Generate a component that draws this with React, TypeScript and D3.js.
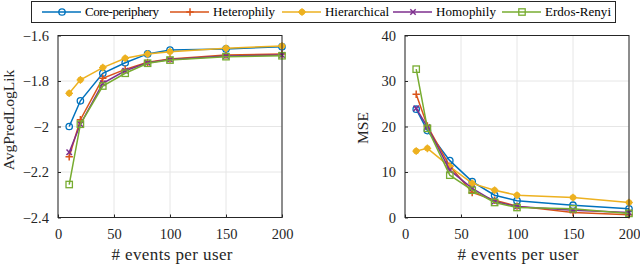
import React, { Component } from "react";
import * as d3 from "d3";

// x values (events per user)
const events = [10, 20, 40, 60, 80, 100, 150, 200];

const seriesNames = ["Core-periphery", "Heterophily", "Hierarchical", "Homophily", "Erdos-Renyi"];
const seriesColors = ["#0072BD", "#D95319", "#EDB120", "#7E2F8E", "#77AC30"];
const seriesMarkers = ["circle", "plus", "star", "cross", "square"];

// AvgPredLogLik
const llCore = [-2.0, -1.887, -1.766, -1.72, -1.681, -1.664, -1.659, -1.649];
const llHetero = [-2.133, -1.97, -1.788, -1.749, -1.718, -1.703, -1.686, -1.681];
const llHier = [-1.854, -1.795, -1.741, -1.70, -1.681, -1.671, -1.656, -1.646];
const llHomo = [-2.113, -1.99, -1.81, -1.755, -1.72, -1.706, -1.69, -1.686];
const llErdos = [-2.255, -1.99, -1.822, -1.766, -1.722, -1.708, -1.693, -1.689];

// MSE
const mseCore = [23.8, 19.1, 12.5, 7.9, 4.9, 3.7, 2.7, 1.9];
const mseHetero = [27.1, 20.1, 11.3, 5.5, 3.8, 2.5, 1.1, 0.6];
const mseHier = [14.6, 15.2, 11.2, 7.5, 6.0, 4.9, 4.4, 3.3];
const mseHomo = [24.0, 19.9, 10.4, 6.4, 3.5, 2.4, 1.6, 1.1];
const mseErdos = [32.6, 19.6, 9.3, 6.0, 3.3, 2.2, 1.9, 0.9];

const xTicks = [0, 50, 100, 150, 200];
const llTicks = [-2.4, -2.2, -2, -1.8, -1.6];
const mseTicks = [0, 10, 20, 30, 40];

const FONT = "Liberation Serif";
const INK = "#262626";

function drawMarker(g, type, x, y, color) {
  const s = 3.2;
  if (type === "circle") {
    g.append("circle").attr("cx", x).attr("cy", y).attr("r", s)
      .attr("fill", "none").attr("stroke", color).attr("stroke-width", 1.3);
  } else if (type === "square") {
    g.append("rect").attr("x", x - s).attr("y", y - s).attr("width", 2 * s).attr("height", 2 * s)
      .attr("fill", "none").attr("stroke", color).attr("stroke-width", 1.3);
  } else if (type === "plus") {
    g.append("path").attr("d", `M${x - s - 0.5},${y}H${x + s + 0.5}M${x},${y - s - 0.5}V${y + s + 0.5}`)
      .attr("stroke", color).attr("stroke-width", 1.5);
  } else if (type === "cross") {
    g.append("path").attr("d", `M${x - s + 0.5},${y - s + 0.5}L${x + s - 0.5},${y + s - 0.5}M${x - s + 0.5},${y + s - 0.5}L${x + s - 0.5},${y - s + 0.5}`)
      .attr("stroke", color).attr("stroke-width", 1.5);
  } else if (type === "star") {
    g.append("circle").attr("cx", x).attr("cy", y).attr("r", s - 0.4)
      .attr("fill", color).attr("stroke", color).attr("stroke-width", 1);
    g.append("path").attr("d", `M${x - s - 0.6},${y}H${x + s + 0.6}M${x},${y - s - 0.6}V${y + s + 0.6}`)
      .attr("stroke", color).attr("stroke-width", 1.3);
  }
}

class Chart extends Component {
  svgRef = React.createRef<SVGSVGElement>();

  componentDidMount() {
    this.renderChart();
  }

  componentDidUpdate() {
    this.renderChart();
  }

  drawPanel(svg, box, domainY, yTicks, yFmt, seriesData, yLabel, yLabelPos, xLabelX) {
    const { left, right, top, bottom } = box;
    const x = d3.scaleLinear().domain([0, 200]).range([left, right]);
    const y = d3.scaleLinear().domain(domainY).range([bottom, top]);
    const g = svg.append("g");

    g.append("rect").attr("x", left).attr("y", top).attr("width", right - left).attr("height", bottom - top)
      .attr("fill", "#fff");

    // grid
    g.append("g").selectAll("line").data(xTicks).join("line")
      .attr("x1", (d) => x(d)).attr("x2", (d) => x(d)).attr("y1", top).attr("y2", bottom)
      .attr("stroke", "#e6e6e6").attr("stroke-width", 1);
    g.append("g").selectAll("line").data(yTicks).join("line")
      .attr("x1", left).attr("x2", right).attr("y1", (d) => y(d)).attr("y2", (d) => y(d))
      .attr("stroke", "#e6e6e6").attr("stroke-width", 1);

    // series
    const line = d3.line<number>().x((d, i) => x(events[i])).y((d) => y(d));
    seriesData.forEach((vals, si) => {
      g.append("path").datum(vals).attr("d", line)
        .attr("fill", "none").attr("stroke", seriesColors[si]).attr("stroke-width", 1.5);
      vals.forEach((v, i) => drawMarker(g, seriesMarkers[si], x(events[i]), y(v), seriesColors[si]));
    });

    // box
    g.append("rect").attr("x", left).attr("y", top).attr("width", right - left).attr("height", bottom - top)
      .attr("fill", "none").attr("stroke", INK).attr("stroke-width", 1);

    // bottom axis
    const ax = g.append("g").attr("transform", `translate(0,${bottom})`)
      .call(d3.axisBottom(x).tickValues(xTicks).tickSize(-3).tickPadding(11).tickFormat(d3.format("d")));
    ax.attr("font-family", FONT);
    ax.select(".domain").remove();
    ax.selectAll("line").attr("stroke", INK);
    ax.selectAll("text").attr("font-family", FONT).attr("font-size", 14.5).attr("fill", INK);

    const ay = g.append("g").attr("transform", `translate(${left},0)`)
      .call(d3.axisLeft(y).tickValues(yTicks).tickSize(-3).tickPadding(9).tickFormat(yFmt));
    ay.attr("font-family", FONT);
    ay.select(".domain").remove();
    ay.selectAll("line").attr("stroke", INK);
    ay.selectAll("text").attr("font-family", FONT).attr("font-size", 14.5).attr("fill", INK);

    // labels
    g.append("text").attr("x", xLabelX).attr("y", 260).attr("text-anchor", "middle")
      .attr("font-family", FONT).attr("font-size", 17).attr("fill", INK)
      .attr("textLength", 121).attr("lengthAdjust", "spacing")
      .text("# events per user");
    g.append("text").attr("transform", `translate(${yLabelPos[0]},${yLabelPos[1]}) rotate(-90)`)
      .attr("text-anchor", "middle").attr("font-family", FONT).attr("font-size", 15.5).attr("fill", INK)
      .text(yLabel);
  }

  renderChart() {
    const svg = d3.select(this.svgRef.current);
    svg.selectAll("*").remove();

    this.drawPanel(svg, { left: 58, right: 282, top: 35.5, bottom: 217.5 }, [-2.4, -1.6], llTicks,
      (d) => d3.format("")(d), [llCore, llHetero, llHier, llHomo, llErdos], "AvgPredLogLik", [14, 120], 172);
    this.drawPanel(svg, { left: 405, right: 629, top: 35.5, bottom: 217.5 }, [0, 40], mseTicks,
      d3.format("d"), [mseCore, mseHetero, mseHier, mseHomo, mseErdos], "MSE", [368, 128], 518);

    // legend
    const lg = svg.append("g");
    lg.append("rect").attr("x", 31.5).attr("y", 1.5).attr("width", 584).attr("height", 21)
      .attr("fill", "#fff").attr("stroke", INK).attr("stroke-width", 1);
    const itemX = [42, 170, 282, 393, 502];
    const textW = [74, 62, 64, 60, 66];
    seriesNames.forEach((name, i) => {
      const x0 = itemX[i];
      lg.append("line").attr("x1", x0).attr("x2", x0 + 39).attr("y1", 12).attr("y2", 12)
        .attr("stroke", seriesColors[i]).attr("stroke-width", 1.5);
      drawMarker(lg, seriesMarkers[i], x0 + 20, 12, seriesColors[i]);
      lg.append("text").attr("x", x0 + 43).attr("y", 15.5).attr("font-family", FONT).attr("font-size", 13)
        .attr("textLength", textW[i]).attr("lengthAdjust", "spacing")
        .attr("fill", "#000").text(name);
    });
  }

  render() {
    return (
      <svg ref={this.svgRef} width={640} height={267}
        style={{ position: "absolute", left: 0, top: 0, background: "#fff", fontFamily: "Liberation Serif" }} />
    );
  }
}

export default function App() {
  return <Chart />;
}
